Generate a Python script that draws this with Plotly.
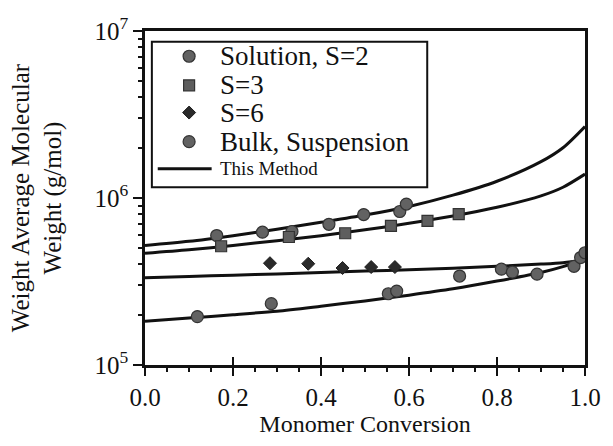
import plotly.graph_objects as go

# ---- data ----
conv_solution = [0.163, 0.267, 0.334, 0.418, 0.497, 0.579, 0.594]
mw_solution = [5.96e5, 6.24e5, 6.30e5, 6.96e5, 7.96e5, 8.30e5, 9.20e5]

conv_s3 = [0.173, 0.327, 0.455, 0.559, 0.642, 0.713]
mw_s3 = [5.14e5, 5.84e5, 6.15e5, 6.80e5, 7.30e5, 8.00e5]

conv_s6 = [0.284, 0.371, 0.449, 0.514, 0.568]
mw_s6 = [4.07e5, 4.04e5, 3.81e5, 3.86e5, 3.86e5]

conv_bulk = [0.119, 0.287, 0.553, 0.572, 0.715, 0.810, 0.835, 0.891, 0.975, 0.990, 1.000]
mw_bulk = [1.95e5, 2.33e5, 2.67e5, 2.77e5, 3.41e5, 3.75e5, 3.60e5, 3.50e5, 3.90e5, 4.40e5, 4.70e5]

# model curves ("This Method"), read at sample conversions
curve_conv = [0.0, 0.1, 0.2, 0.3, 0.4, 0.5, 0.6, 0.7, 0.8, 0.9, 0.95, 1.0]
curve_solution = [5.2e5, 5.5e5, 5.95e5, 6.5e5, 7.15e5, 7.9e5, 8.9e5, 1.04e6, 1.26e6, 1.65e6, 2.0e6, 2.68e6]
curve_s3 = [4.67e5, 4.9e5, 5.2e5, 5.55e5, 5.95e5, 6.45e5, 7.05e5, 7.8e5, 8.8e5, 1.03e6, 1.16e6, 1.39e6]
curve_s6 = [3.33e5, 3.39e5, 3.45e5, 3.51e5, 3.58e5, 3.65e5, 3.72e5, 3.80e5, 3.90e5, 4.02e5, 4.10e5, 4.25e5]
curve_bulk = [1.83e5, 1.91e5, 2.0e5, 2.1e5, 2.25e5, 2.42e5, 2.62e5, 2.86e5, 3.18e5, 3.58e5, 3.88e5, 4.3e5]

legend_labels = ["Solution, S=2", "S=3", "S=6", "Bulk, Suspension", "This Method"]

x_ticks = [0.0, 0.2, 0.4, 0.6, 0.8, 1.0]
x_ticktext = ["0.0", "0.2", "0.4", "0.6", "0.8", "1.0"]
y_ticks = [1e5, 1e6, 1e7]
y_ticktext = ["10<sup>5</sup>", "10<sup>6</sup>", "10<sup>7</sup>"]
y_minor = [m * 10 ** e for e in (5, 6) for m in range(2, 10)]

FONT = "Liberation Serif"
INK = "#111111"

# plot-area geometry (pixels) used to place the hand-built legend box
W, H = 613, 446
ML, MR, MT, MB = 145, 19, 31, 71
PW, PH = W - ML - MR, H - MT - MB


def px(x):
    return (x - ML) / PW


def py(y):
    return (H - MB - y) / PH


fig = go.Figure()

for cy in (curve_solution, curve_s3, curve_s6, curve_bulk):
    fig.add_trace(go.Scatter(
        x=curve_conv, y=cy, mode="lines",
        line=dict(color=INK, width=3, shape="spline", smoothing=0.8),
        name=legend_labels[4], showlegend=False, hoverinfo="skip"))

circle_style = dict(symbol="circle", size=12, color="#626262",
                    line=dict(color="#333333", width=1.2))
square_style = dict(symbol="square", size=11, color="#5e5e5e",
                    line=dict(color="#333333", width=1.2))
diamond_style = dict(symbol="diamond", size=10, color="#2a2a2a",
                     line=dict(color="#1e1e1e", width=1))

fig.add_trace(go.Scatter(x=conv_solution, y=mw_solution, mode="markers",
                         name=legend_labels[0], marker=circle_style, showlegend=False))
fig.add_trace(go.Scatter(x=conv_s3, y=mw_s3, mode="markers",
                         name=legend_labels[1], marker=square_style, showlegend=False))
fig.add_trace(go.Scatter(x=conv_s6, y=mw_s6, mode="markers",
                         name=legend_labels[2], marker=diamond_style, showlegend=False))
fig.add_trace(go.Scatter(x=conv_bulk, y=mw_bulk, mode="markers",
                         name=legend_labels[3], marker=circle_style, showlegend=False))

# dummy trace on overlay axis for the inward half of the major x ticks
fig.add_trace(go.Scatter(x=[0.0], y=[1e5], xaxis="x2", mode="markers",
                         marker=dict(size=0, opacity=0), showlegend=False,
                         hoverinfo="skip"))

# ---- legend box (drawn by hand so row spacing matches the original) ----
row_y = [57, 87, 115, 145, 173]
sym_x = 190
text_x = 219
fig.add_shape(type="rect", xref="paper", yref="paper",
              x0=px(152), x1=px(433), y0=py(192), y1=py(42),
              line=dict(color=INK, width=2), fillcolor="white", layer="below")
for style, ry in zip((circle_style, square_style, diamond_style, circle_style), row_y[:4]):
    fig.add_trace(go.Scatter(x=[px(sym_x)], y=[py(ry)], xaxis="x3", yaxis="y3",
                             mode="markers", marker=style, showlegend=False,
                             hoverinfo="skip"))
fig.add_trace(go.Scatter(x=[px(158), px(213)], y=[py(row_y[4]), py(row_y[4])],
                         xaxis="x3", yaxis="y3", mode="lines",
                         line=dict(color=INK, width=3), showlegend=False,
                         hoverinfo="skip"))
for i, (lab, ry) in enumerate(zip(legend_labels, row_y)):
    fig.add_annotation(x=px(text_x), y=py(ry), xref="paper", yref="paper",
                       text=lab, showarrow=False, xanchor="left", yanchor="middle",
                       font=dict(family=FONT, size=19 if i == 4 else 27, color=INK))

fig.update_layout(
    width=W, height=H,
    margin=dict(l=ML, r=MR, t=MT, b=MB),
    paper_bgcolor="white", plot_bgcolor="white",
    font=dict(family=FONT, color=INK, size=24),
    showlegend=False,
    xaxis=dict(range=[0, 1], tickvals=x_ticks, ticktext=x_ticktext,
               ticks="outside", ticklen=8, tickwidth=2, tickcolor=INK,
               showline=True, linecolor=INK, linewidth=2.5, mirror=True,
               showgrid=False, zeroline=False,
               tickfont=dict(size=25, family=FONT, color=INK),
               minor=dict(ticks="outside", ticklen=4, tickwidth=1.5,
                          tickcolor=INK, dtick=0.05, showgrid=False),
               title=dict(text="Monomer Conversion", standoff=6,
                          font=dict(size=24, family=FONT, color=INK))),
    xaxis2=dict(range=[0, 1], overlaying="x", anchor="y", side="bottom",
                tickvals=x_ticks, ticks="inside", ticklen=8, tickwidth=2,
                tickcolor=INK, showticklabels=False, showgrid=False,
                zeroline=False, showline=False),
    xaxis3=dict(domain=[0, 1], range=[0, 1], anchor="y3", visible=False,
                overlaying="x"),
    yaxis3=dict(domain=[0, 1], range=[0, 1], anchor="x3", visible=False,
                overlaying="y"),
    yaxis=dict(type="log", range=[5, 7], tickvals=y_ticks, ticktext=y_ticktext,
               ticks="outside", ticklen=9, tickwidth=2, tickcolor=INK,
               showline=True, linecolor=INK, linewidth=2.5, mirror=True,
               showgrid=False, zeroline=False,
               tickfont=dict(size=25, family=FONT, color=INK),
               minor=dict(tickmode="array", tickvals=y_minor, ticks="outside",
                          ticklen=4, tickwidth=1.5, tickcolor=INK,
                          showgrid=False),
               title=dict(text="Weight Average Molecular<br>Weight (g/mol)",
                          standoff=26, font=dict(size=25, family=FONT, color=INK))),
)

fig.write_html("out.html")
